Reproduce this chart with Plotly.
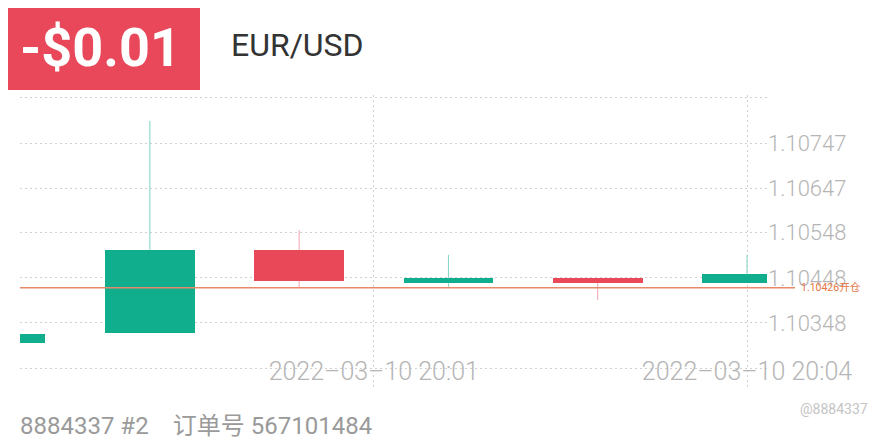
import plotly.graph_objects as go

# ---- data ----
candle_idx = [0, 1, 2, 3, 4, 5]
opens  = [1.10304, 1.10326, 1.10510, 1.10436, 1.10447, 1.10436]
highs  = [1.10324, 1.10796, 1.10554, 1.10499, 1.10447, 1.10499]
lows   = [1.10304, 1.10326, 1.10426, 1.10428, 1.10399, 1.10436]
closes = [1.10324, 1.10510, 1.10441, 1.10447, 1.10437, 1.10456]

grid_vals   = [1.10248, 1.10348, 1.10448, 1.10548, 1.10647, 1.10747, 1.10847]
grid_labels = ["", "1.10348", "1.10448", "1.10548", "1.10647", "1.10747", ""]

date_ticks  = [2.5, 5]
date_labels = ["2022\u201303\u201310 20:01", "2022\u201303\u201310 20:04"]

open_price = 1.10426
open_label = "1.10426开仓"
pnl_text = "-$0.01"
symbol = "EUR/USD"
footer = "8884337 #2\u2002\u00a0\u00a0订单号 567101484"
watermark = "@8884337"

GREEN = "#10ae8d"
RED = "#e84858"
GREEN_W = "#80d5c3"
RED_W = "#f2a3ac"
GRID = "#d0d0d0"

fig = go.Figure()

# wicks (segments outside the body)
def wick_xy(sel):
    xs, ys = [], []
    for i, o, h, l, c in zip(candle_idx, opens, highs, lows, closes):
        if sel(o, c):
            top, bot = max(o, c), min(o, c)
            if h > top:
                xs += [i, i, None]; ys += [top, h, None]
            if l < bot:
                xs += [i, i, None]; ys += [l, bot, None]
    return xs, ys

gx, gy = wick_xy(lambda o, c: c >= o)
rx, ry = wick_xy(lambda o, c: c < o)
fig.add_trace(go.Scatter(x=gx, y=gy, mode="lines", line=dict(color=GREEN_W, width=1),
                         hoverinfo="skip", showlegend=False))
fig.add_trace(go.Scatter(x=rx, y=ry, mode="lines", line=dict(color=RED_W, width=1),
                         hoverinfo="skip", showlegend=False))

# bodies
fig.add_trace(go.Bar(
    x=candle_idx,
    y=[abs(c - o) for o, c in zip(opens, closes)],
    base=[min(o, c) for o, c in zip(opens, closes)],
    width=0.6,
    marker=dict(color=[GREEN if c >= o else RED for o, c in zip(opens, closes)],
                line=dict(width=0)),
    showlegend=False,
))

# page px -> paper helpers (page has an 8px body margin)
PW, PH = 747, 293
def px(x):
    return (x - 20) / PW
def py(y):
    return (388 - y) / PH

# open price line
fig.add_shape(type="line", xref="paper", yref="y", x0=0, x1=px(795),
              y0=open_price, y1=open_price, line=dict(color="#e8896a", width=1.5))
fig.add_annotation(xref="paper", yref="y", x=px(799), y=open_price, text=open_label,
                   showarrow=False, xanchor="left", yanchor="middle",
                   font=dict(size=10.5, color="#e8743f", family="Roboto, Noto Sans CJK SC"))

# header
fig.add_shape(type="rect", xref="paper", yref="paper", x0=px(0), x1=px(200),
              y0=py(90), y1=py(0), fillcolor="#e8485a", line=dict(width=0), layer="above")
fig.add_annotation(xref="paper", yref="paper", x=px(100), y=py(47), text=f"<b>{pnl_text}</b>",
                   showarrow=False, xanchor="center", yanchor="middle",
                   font=dict(size=54, color="white", family="Roboto"))
fig.add_annotation(xref="paper", yref="paper", x=px(229), y=py(45), text=symbol,
                   showarrow=False, xanchor="left", yanchor="middle",
                   font=dict(size=32, color="#333333", family="Roboto"))

# footer
fig.add_annotation(xref="paper", yref="paper", x=px(18), y=py(426), text=footer,
                   showarrow=False, xanchor="left", yanchor="middle",
                   font=dict(size=24, color="#9a9a9a", family="Roboto, Noto Sans CJK SC"))
fig.add_annotation(xref="paper", yref="paper", x=px(870), y=py(409), text=watermark,
                   showarrow=False, xanchor="right", yanchor="middle",
                   font=dict(size=14, color="#c4c4c4", family="Roboto"))

fig.update_layout(
    width=872, height=432,
    margin=dict(l=12, r=113, t=87, b=52),
    paper_bgcolor="white", plot_bgcolor="white",
    showlegend=False,
    bargap=0,
    xaxis=dict(range=[0.13, 5.134], tickvals=date_ticks, ticktext=date_labels,
               ticklabelposition="inside", ticklabeloverflow="allow",
               showgrid=True, gridcolor=GRID, griddash="2px,3px",
               gridwidth=1, zeroline=False, showline=False, ticks="",
               tickfont=dict(size=25, color="#b5b5b5", family="Roboto", weight=300),
               fixedrange=True),
    yaxis=dict(range=[1.102039, 1.108534], side="right", tickvals=grid_vals, ticktext=grid_labels,
               showgrid=True, gridcolor=GRID, griddash="2px,3px", gridwidth=1,
               zeroline=False, showline=False, ticks="",
               tickfont=dict(size=22, color="#b5b5b5", family="Roboto", weight=300),
               fixedrange=True),
)

fig.write_html("out.html")
